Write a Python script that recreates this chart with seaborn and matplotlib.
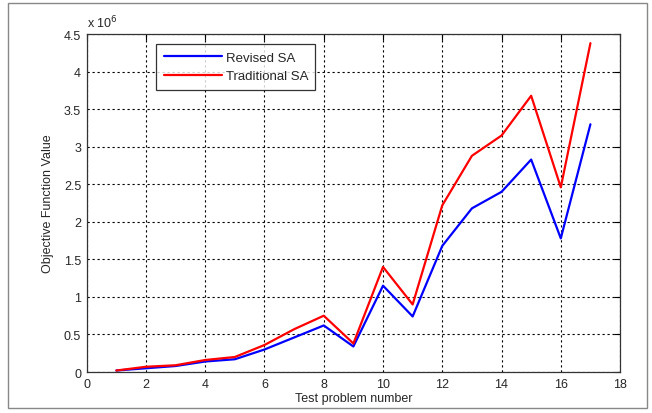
import numpy as np
import pandas as pd
import seaborn as sns
from matplotlib import pyplot as plt
from matplotlib.patches import Rectangle

# objective values, in units of 1e6
problems = list(range(1, 18))
revised_sa = [0.02, 0.05, 0.08, 0.14, 0.17, 0.30, 0.46, 0.62, 0.34, 1.15,
              0.74, 1.68, 2.18, 2.40, 2.83, 1.78, 3.30]
traditional_sa = [0.02, 0.07, 0.09, 0.16, 0.20, 0.36, 0.57, 0.75, 0.38, 1.40,
                  0.90, 2.22, 2.88, 3.15, 3.68, 2.46, 4.38]
series_names = ['Revised SA', 'Traditional SA']

sns.set_style('white')
plt.rcParams['font.family'] = ['Liberation Sans', 'DejaVu Sans']

df = pd.DataFrame({
    'problem': problems * 2,
    'value': revised_sa + traditional_sa,
    'method': [series_names[0]] * len(problems) + [series_names[1]] * len(problems),
})

fig = plt.figure(figsize=(6.52, 4.14), dpi=100)
ax = fig.add_axes([0.133, 0.099, 0.818, 0.816])

sns.lineplot(data=df, x='problem', y='value', hue='method',
             palette=['#0000ff', '#ff0000'], linewidth=1.6, ax=ax)

ax.set_xlim(0, 18)
ax.set_ylim(0, 4.5)
ax.set_xticks(np.arange(0, 19, 2))
ax.set_yticks(np.arange(0, 4.6, 0.5))
ax.set_yticklabels(['0', '0.5', '1', '1.5', '2', '2.5', '3', '3.5', '4', '4.5'])
ax.grid(True, color='black', linestyle=(0, (2, 2.5)), linewidth=0.8)
ax.tick_params(direction='in', length=4, labelsize=9, top=True, right=True,
               color='black', pad=4)
for s in ax.spines.values():
    s.set_color('#333333')
    s.set_linewidth(0.9)

ax.set_xlabel('Test problem number', fontsize=9, labelpad=2)
ax.set_ylabel('Objective Function Value', fontsize=9, labelpad=7)
ax.text(0.0, 1.012, 'x 10$^6$', transform=ax.transAxes, fontsize=9,
        ha='left', va='bottom')

leg = ax.legend(loc='upper left', bbox_to_anchor=(0.118, 0.99), fontsize=9.5,
                frameon=True, fancybox=False, handlelength=4.4,
                borderpad=0.55, labelspacing=0.5, handletextpad=0.3)
leg.get_frame().set_edgecolor('black')
leg.get_frame().set_linewidth(0.9)
leg.set_title(None)

fig.patches.append(Rectangle((0.013, 0.012), 0.98, 0.978, transform=fig.transFigure,
                             fill=False, edgecolor='#888888', linewidth=1.0))

fig.savefig('out.png', dpi=100)
